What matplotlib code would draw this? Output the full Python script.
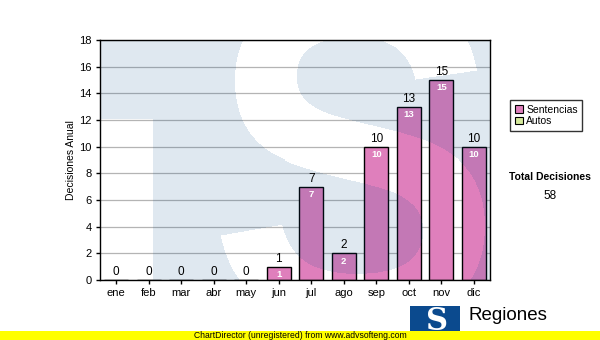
import numpy as np
import matplotlib
matplotlib.use('Agg')
import matplotlib.pyplot as plt
from matplotlib.patches import Patch, Rectangle
from matplotlib.textpath import TextPath
from matplotlib.font_manager import FontProperties
from matplotlib.transforms import Affine2D

plt.rcParams['font.family'] = ['Liberation Sans', 'DejaVu Sans']

months = ['ene', 'feb', 'mar', 'abr', 'may', 'jun', 'jul', 'ago', 'sep', 'oct', 'nov', 'dic']
sentencias = [0, 0, 0, 0, 0, 1, 7, 2, 10, 13, 15, 10]
autos = [0, 0, 0, 0, 0, 0, 0, 0, 0, 0, 0, 0]
yticks = [0, 2, 4, 6, 8, 10, 12, 14, 16, 18]

PINK = '#df7fbc'
GREEN = '#d6ea9c'

W, H = 600, 340
fig = plt.figure(figsize=(6, 3.4), dpi=100)

def fx(px):
    return px / W

def fy(py):
    return 1 - py / H

# plot area: x 100..490, y 40..280 (pixels)
ax = fig.add_axes([fx(100), fy(280), fx(390), 240 / H])
ax.set_facecolor('white')

x = np.arange(len(months))
totals = [s + a for s, a in zip(sentencias, autos)]
ax.bar(x, sentencias, width=0.74, color=PINK, edgecolor='black', linewidth=1, zorder=2)
ax.bar(x, autos, bottom=sentencias, width=0.74, color=GREEN, edgecolor='black', linewidth=0, zorder=2)

ax.set_xlim(-0.5, len(months) - 0.5)
ax.set_ylim(0, 18)
ax.set_yticks(yticks)
ax.set_xticks(x)
ax.set_xticklabels(months)
ax.tick_params(axis='both', labelsize=8, length=3, width=1, direction='out', pad=3)
ax.grid(axis='y', color='#b4b4b4', linewidth=0.9, zorder=1)
ax.set_axisbelow(True)
for sp in ax.spines.values():
    sp.set_linewidth(1)
    sp.set_color('black')
    sp.set_zorder(5)
ax.set_ylabel('Decisiones Anual', fontsize=7.5, labelpad=2)

# watermark: light blue T with a white S over it, drawn on top of the bars
nx, ny = 390, 240
px, py = np.meshgrid(np.arange(nx) + 100.5, np.arange(ny) + 40.5)
tp = TextPath((0, 0), 'S', size=100, prop=FontProperties(family='Liberation Sans', weight='bold'))
v = tp.vertices
x0, x1 = v[:, 0].min(), v[:, 0].max()
y0, y1 = v[:, 1].min(), v[:, 1].max()
sx = (485 - 208) / (x1 - x0)
sy = (325 - (-10)) / (y1 - y0)
tr = Affine2D().translate(-x0, -y1).scale(sx, -sy).translate(208, -10)
spath = tr.transform_path(tp)
pts = np.column_stack([px.ravel(), py.ravel()])
in_s = spath.contains_points(pts).reshape(ny, nx)
out_t = (px < 153) & (py > 120)
blue = ~(in_s | out_t)
img = np.zeros((ny, nx, 4))
img[..., 0] = 9 / 255
img[..., 1] = 78 / 255
img[..., 2] = 140 / 255
img[..., 3] = np.where(blue, 0.13, 0.0)
ax.imshow(img, extent=(-0.5, len(months) - 0.5, 0, 18), origin='upper',
          aspect='auto', zorder=3, interpolation='nearest')
ax.set_xlim(-0.5, len(months) - 0.5)
ax.set_ylim(0, 18)

# value labels
for i, t in enumerate(totals):
    ax.annotate(str(t), (i, t), xytext=(0, 1.5), textcoords='offset points',
                ha='center', va='bottom', fontsize=8.5, color='black', zorder=6)
    if sentencias[i] > 0:
        ax.annotate(str(sentencias[i]), (i, sentencias[i]), xytext=(0, -2.5),
                    textcoords='offset points', ha='center', va='top',
                    fontsize=6.8, color='white', fontweight='bold', zorder=6)

# legend
handles = [Patch(facecolor=PINK, edgecolor='black', linewidth=0.8, label='Sentencias'),
           Patch(facecolor=GREEN, edgecolor='black', linewidth=0.8, label='Autos')]
leg = fig.legend(handles=handles, loc='upper left', bbox_to_anchor=(fx(510), fy(100)),
                 fontsize=7.5, frameon=True, fancybox=False, shadow=False,
                 borderpad=0.45, labelspacing=0.15, handlelength=0.75, handleheight=0.75,
                 handletextpad=0.35, borderaxespad=0)
leg.get_frame().set_edgecolor('black')
leg.get_frame().set_linewidth(1)

fig.text(fx(550), fy(177), 'Total Decisiones', ha='center', va='center',
         fontsize=7.5, fontweight='bold')
fig.text(fx(550), fy(196), str(sum(totals)), ha='center', va='center', fontsize=8.5)

# logo
fig.patches.append(Rectangle((fx(410), fy(340)), fx(50), 34 / H, transform=fig.transFigure,
                             facecolor='#0b4a8e', edgecolor='none', zorder=1))
fig.text(fx(437), fy(322), 'S', ha='center', va='center', color='white',
         fontsize=22, fontweight='bold', family='DejaVu Serif', zorder=2)
fig.text(fx(468), fy(316), 'Regiones', ha='left', va='center', fontsize=13.5, zorder=2)
fig.text(fx(468), fy(334), 'Tribunal Supremo de Justicia', ha='left', va='center',
         fontsize=6, zorder=2)

# unregistered banner
fig.patches.append(Rectangle((0, 0), 1, 9 / H, transform=fig.transFigure,
                             facecolor='#ffff00', edgecolor='none', zorder=5))
fig.text(0.5, 4.3 / H, 'ChartDirector (unregistered) from www.advsofteng.com',
         ha='center', va='center', fontsize=6.2, zorder=6)

fig.savefig('out.png', dpi=100)
